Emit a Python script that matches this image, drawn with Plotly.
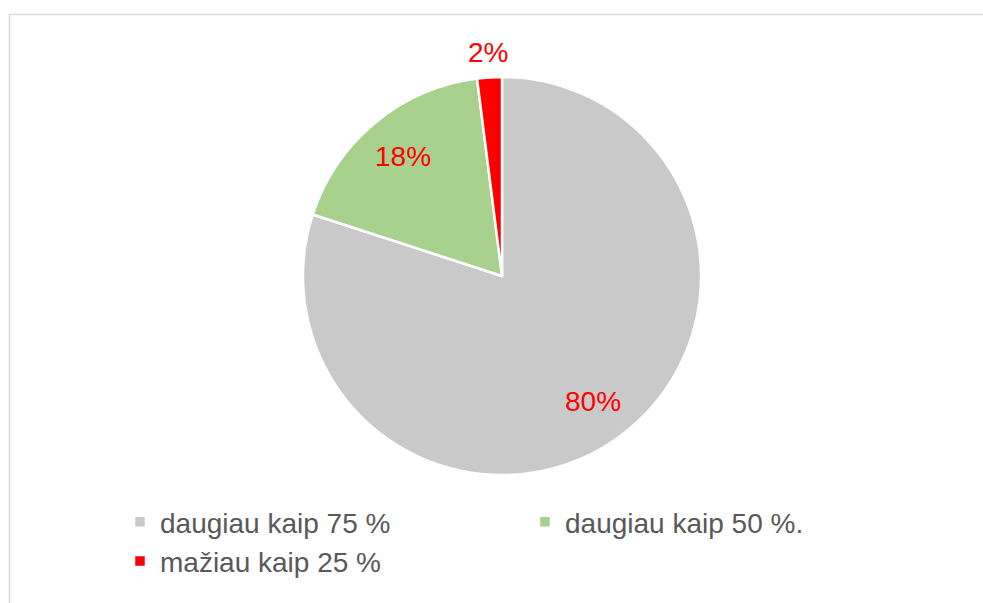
import math
import plotly.graph_objects as go

categories = ["daugiau kaip 75 %", "daugiau kaip 50 %.", "mažiau kaip 25 %"]
values = [80, 18, 2]
colors = ["#c9c9c9", "#a9d18e", "#ff0000"]
label_inside = [True, True, False]

W, H = 983, 603
CX, CY, R = 502, 276, 199

fig = go.Figure(go.Pie(
    labels=categories,
    values=values,
    sort=False,
    direction="clockwise",
    rotation=0,
    marker=dict(colors=colors, line=dict(color="white", width=2.5)),
    textinfo="none",
    domain=dict(x=[(CX - R) / W, (CX + R) / W], y=[1 - (CY + R) / H, 1 - (CY - R) / H]),
    hoverinfo="label+percent",
))

# data labels placed along each slice's bisector (computed from the values)
total = sum(values)
cum = 0
annotations = []
for v, inside in zip(values, label_inside):
    theta = 2 * math.pi * (cum + v / 2) / total
    cum += v
    rr = 0.78 * R if inside else R + 25
    px = CX + rr * math.sin(theta)
    py = CY - rr * math.cos(theta)
    annotations.append(dict(
        x=px / W, y=1 - py / H, xref="paper", yref="paper",
        text=f"{round(100 * v / total)}%", showarrow=False,
        xanchor="center", yanchor="middle",
        font=dict(color="#ff0000", size=28, family="Liberation Sans"),
    ))

fig.update_layout(
    width=W, height=H,
    margin=dict(l=0, r=0, t=0, b=0),
    paper_bgcolor="white",
    plot_bgcolor="white",
    showlegend=True,
    annotations=annotations,
    legend=dict(
        orientation="h",
        x=120 / W, xanchor="left",
        y=1 - 497 / H, yanchor="top",
        entrywidth=360, entrywidthmode="pixels",
        font=dict(size=28, color="#595959", family="Liberation Sans"),
        bgcolor="rgba(0,0,0,0)",
    ),
    shapes=[dict(
        type="rect", xref="paper", yref="paper",
        x0=9.5 / W, x1=1.05, y0=-0.05, y1=1 - 14.5 / H,
        line=dict(color="#d9d9d9", width=1.5),
        fillcolor="rgba(0,0,0,0)", layer="below",
    )],
)

fig.write_html(
    "out.html",
    config={"displayModeBar": False},
    post_script="document.body.style.margin='0';document.body.style.overflow='hidden';",
)
